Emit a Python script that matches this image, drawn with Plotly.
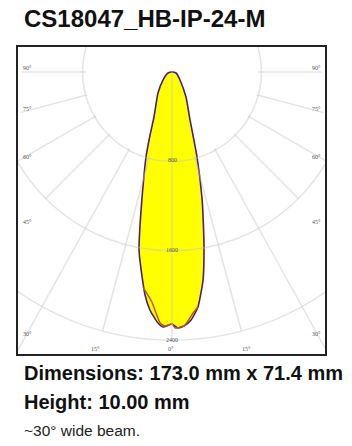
import numpy as np
import plotly.graph_objects as go

# Photometric curves: angle from nadir (degrees), intensity (cd)
envelope_angles = [-90, -76, -48.4, -33.7, -21.8, -19.2, -17, -13.4, -11.8, -10.5, -8.3, -6.9, -5.3, -3.4, -2.0, 0,
                   1.3, 2.7, 4.4, 6.3, 8.5, 10.2, 11.6, 13.4, 16.4, 18.4, 20.6, 29.2, 45, 76, 90]
envelope_cd = [0, 37, 108, 226, 434, 597, 796, 1159, 1399, 1620, 1854, 2010, 2139, 2241, 2284, 2255,
               2292, 2276, 2226, 2116, 1882, 1619, 1398, 1159, 793, 594, 458, 257, 101, 37, 0]
inner_angles = [-7.7, -5.0, -2.7, -1.6, 0, 0.7, 2.9, 5.0, 6.3]
inner_cd = [1942, 2066, 2249, 2274, 2255, 2291, 2270, 2165, 2116]

# Grid
ring_cd = [800, 1600, 2400]
spoke_angles = [-90, -75, -60, -45, -29, -15, 0, 15, 29, 45, 60, 75, 90]
spoke_start = [770, 785, 785, 785, 785, 785, 0, 785, 785, 785, 785, 785, 770]
spoke_end = [1340, 1405, 1600, 1600, 2860, 2400, 2400, 2400, 2860, 1600, 1600, 1405, 1340]

# Labels
ring_labels = ["800", "1600", "2400"]
side_angle_labels = ["90°", "75°", "60°", "45°", "30°"]
bottom_angle_labels = ["15°", "0°", "15°"]
title_text = "CS18047_HB-IP-24-M"
footer_texts = ["Dimensions: 173.0 mm x 71.4 mm", "Height: 10.00 mm", "~30° wide beam."]

W, H = 352, 446
L, T, R, B = 18, 47, 325, 354
OX, OY = 172, 72
SCALE = 8.95


def px(x):
    return (x - L) / (R - L)


def py(y):
    return 1 - (y - T) / (B - T)


def polar_xy(a, r):
    t = np.radians(np.asarray(a, dtype=float))
    r = np.asarray(r, dtype=float)
    return r * np.sin(t), -r * np.cos(t)


fig = go.Figure()
ex, ey = polar_xy(envelope_angles, envelope_cd)
fig.add_trace(go.Scatter(x=ex, y=ey, mode="lines", fill="toself", fillcolor="#ffff00",
                         line=dict(color="#4a1f78", width=1.6, shape="spline", smoothing=0.5),
                         hoverinfo="skip", showlegend=False))
ix, iy = polar_xy(inner_angles, inner_cd)
fig.add_trace(go.Scatter(x=ix, y=iy, mode="lines",
                         line=dict(color="#b8581a", width=1.5, shape="spline", smoothing=0.5),
                         hoverinfo="skip", showlegend=False))

grid = "rgba(195,195,195,0.45)"
shapes = []
for r in ring_cd:
    shapes.append(dict(type="circle", xref="x", yref="y", x0=-r, x1=r, y0=-r, y1=r,
                       line=dict(color=grid, width=1.5), layer="above"))
for a, r0, r1 in zip(spoke_angles, spoke_start, spoke_end):
    x, y = polar_xy([a, a], [r0, r1])
    shapes.append(dict(type="line", xref="x", yref="y", x0=x[0], y0=y[0], x1=x[1], y1=y[1],
                       line=dict(color=grid, width=1.5), layer="above"))

ann = []


def text(t, x, y, size, color="#111", bold=False, anchor="left", family="Liberation Sans"):
    ann.append(dict(text=f"<b>{t}</b>" if bold else t, x=px(x), y=py(y), xref="paper", yref="paper",
                    xanchor=anchor, yanchor="middle", showarrow=False,
                    font=dict(family=family, size=size, color=color)))


tick_font = dict(size=6, color="#555", anchor="center", family="Liberation Serif")
for t, y in zip(ring_labels, [160, 250, 340]):
    text(t, 172, y, **tick_font)
for t, y in zip(side_angle_labels, [68, 109, 157, 222, 334]):
    text(t, 27, y, **tick_font)
    text(t, 316, y, **tick_font)
for t, x in zip(bottom_angle_labels, [95, 171, 246]):
    text(t, x, 349, **tick_font)

text(title_text, 22, 19, 24, bold=True)
text(footer_texts[0], 22, 373, 20, bold=True)
text(footer_texts[1], 22, 402, 20, bold=True)
text(footer_texts[2], 22, 431, 15.5, color="#222")

axis = dict(showgrid=False, zeroline=False, showticklabels=False, ticks="", showline=True, mirror=True,
            linecolor="#222", linewidth=1.5, fixedrange=True)
fig.update_layout(
    width=W, height=H, autosize=False,
    margin=dict(l=L, t=T, r=W - R, b=H - B, pad=0),
    paper_bgcolor="white", plot_bgcolor="white",
    xaxis=dict(axis, range=[(L - OX) * SCALE, (R - OX) * SCALE]),
    yaxis=dict(axis, range=[(OY - B) * SCALE, (OY - T) * SCALE]),
    shapes=shapes, annotations=ann, showlegend=False,
)
fig.write_html("out.html", config={"displayModeBar": False},
               post_script="document.body.style.margin='0';")
